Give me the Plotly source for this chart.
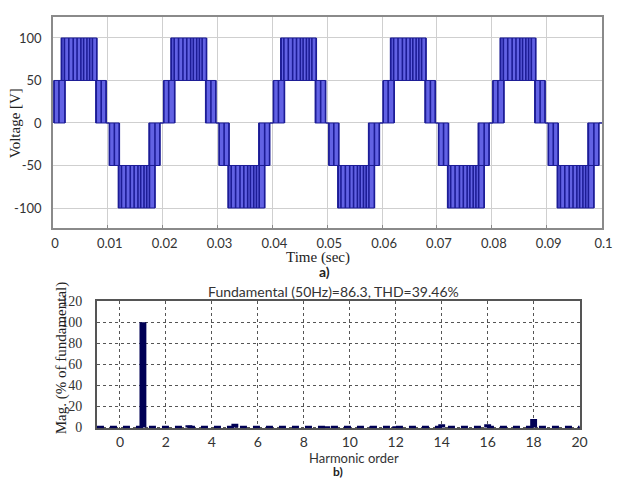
import plotly.graph_objects as go

# ---------------- data: (a) multilevel inverter output voltage ----------------
cycle_starts = [0.00, 0.02, 0.04, 0.06, 0.08]          # s, start of each 50 Hz cycle
band_t0 = [0.0002, 0.0015, 0.0078, 0.0103, 0.0119, 0.0175]   # band start within a cycle (s)
band_t1 = [0.0022, 0.0080, 0.0097, 0.0121, 0.0186, 0.0195]   # band end within a cycle (s)
band_lo = [0, 50, 0, -50, -100, -50]                          # lower level of switching band (V)
band_hi = [50, 100, 50, 0, -50, 0]                            # upper level of switching band (V)
band_edges = [
    [0.0002, 0.0011, 0.0022],
    [0.0016, 0.0021, 0.0029, 0.0037, 0.0044, 0.0051, 0.0056, 0.0062, 0.0067, 0.0072, 0.0080],
    [0.0079, 0.0088, 0.0097],
    [0.0103, 0.0112, 0.0121],
    [0.0120, 0.0125, 0.0133, 0.0141, 0.0148, 0.0155, 0.0160, 0.0166, 0.0171, 0.0176, 0.0186],
    [0.0176, 0.0186, 0.0195],
]
time_ticks = [0, 0.01, 0.02, 0.03, 0.04, 0.05, 0.06, 0.07, 0.08, 0.09, 0.1]
time_ticktext = ["0", "0.01", "0.02", "0.03", "0.04", "0.05", "0.06", "0.07", "0.08", "0.09", "0.1"]
volt_ticks = [100, 50, 0, -50, -100]
volt_ticktext = ["100", "50", "0", "-50", "-100"]

# ---------------- data: (b) harmonic spectrum ----------------
harm_order = [1, 3, 5, 9, 11, 12, 14, 16, 18]
harm_mag = [100, 2.0, 3.5, 1.0, 0.5, 0.8, 3.0, 3.0, 8.0]
harm_ticks = [0, 2, 4, 6, 8, 10, 12, 14, 16, 18, 20]
mag_ticks = [0, 20, 40, 60, 80, 100, 120]
spec_title = "Fundamental (50Hz)=86.3, THD=39.46%"

W, H = 618, 484
SANS = "Lato"
SERIF = "Liberation Serif"
DARK = "rgb(28,28,150)"
FILL = "rgb(98,98,228)"
NAVY = "#000055"


def px(x):
    return x / W


def py(y):
    return 1 - y / H


# build waveform geometry from the data
fx, fy, ex, ey, cx, cy = [], [], [], [], [], []
for c in cycle_starts:
    for t0, t1, lo, hi, edges in zip(band_t0, band_t1, band_lo, band_hi, band_edges):
        fx += [c + t0, c + t1, c + t1, c + t0, c + t0, None]
        fy += [lo, lo, hi, hi, lo, None]
        for e in edges:
            ex += [c + e, c + e, None]
            ey += [lo, hi, None]
    n = len(band_t0)
    for i in range(n):
        j = (i + 1) % n
        cnext = c + (0.02 if j == 0 else 0)
        shared = set([band_lo[i], band_hi[i]]) & set([band_lo[j], band_hi[j]])
        if shared and c + band_t1[i] < cnext + band_t0[j]:
            lvl = shared.pop()
            cx += [c + band_t1[i], cnext + band_t0[j], None]
            cy += [lvl, lvl, None]

fig = go.Figure()
fig.add_trace(go.Scatter(x=fx, y=fy, mode="lines", fill="toself", fillcolor=FILL,
                         line=dict(color=DARK, width=1), xaxis="x", yaxis="y",
                         showlegend=False, hoverinfo="skip"))
fig.add_trace(go.Scatter(x=ex, y=ey, mode="lines", line=dict(color=DARK, width=1.6),
                         xaxis="x", yaxis="y", showlegend=False, hoverinfo="skip"))
fig.add_trace(go.Scatter(x=cx, y=cy, mode="lines", line=dict(color=DARK, width=1.4),
                         xaxis="x", yaxis="y", showlegend=False, hoverinfo="skip"))

fig.add_trace(go.Bar(x=harm_order, y=harm_mag, width=0.3, marker=dict(color=NAVY, line=dict(width=0)),
                     xaxis="x2", yaxis="y2", showlegend=False))


def ann(text, x, y, font, angle=0):
    return dict(text=text, x=px(x), y=py(y), xref="paper", yref="paper",
                xanchor="center", yanchor="middle", textangle=angle,
                showarrow=False, font=font)


fig.update_layout(
    width=W, height=H,
    margin=dict(l=0, r=0, t=0, b=0),
    paper_bgcolor="white", plot_bgcolor="white",
    xaxis=dict(domain=[px(52), px(613)], range=[0, 0.1001], tickvals=time_ticks, ticktext=time_ticktext,
               showgrid=True, gridcolor="#cfcfcf", gridwidth=1, zeroline=False,
               showline=True, linecolor="#8a8a8a", linewidth=1.5, mirror=True,
               ticks="inside", ticklen=4, tickcolor="#8a8a8a",
               tickfont=dict(family=SANS, size=13, color="#333"),
               ticklabelstandoff=2, ticklabelshift=2, ticklabeloverflow="allow", anchor="y"),
    yaxis=dict(domain=[py(228), py(10)], range=[-124, 125],
               tickvals=volt_ticks, ticktext=volt_ticktext,
               showgrid=True, gridcolor="#cfcfcf", gridwidth=1, zeroline=False,
               showline=True, linecolor="#8a8a8a", linewidth=1.5, mirror=True,
               ticks="", tickfont=dict(family=SANS, size=13, color="#333"),
               ticklabelstandoff=7, anchor="x"),
    xaxis2=dict(domain=[px(97), px(590)], range=[-1, 20], tickvals=harm_ticks,
                showgrid=True, gridcolor="#555", gridwidth=1, griddash="dot", zeroline=False,
                showline=True, linecolor="#555", linewidth=2, mirror=True,
                ticks="", tickfont=dict(family=SANS, size=14, color="#333"),
                ticklabelstandoff=0, ticklabeloverflow="allow", anchor="y2"),
    yaxis2=dict(domain=[py(434), py(303)], range=[-1, 120], tickvals=mag_ticks,
                showgrid=True, gridcolor="#555", gridwidth=1, griddash="dot", zeroline=False,
                showline=True, linecolor="#555", linewidth=2, mirror=True,
                ticks="", tickfont=dict(family=SERIF, size=14, color="#333"),
                ticklabelstandoff=10, anchor="x2"),
    shapes=[dict(type="line", xref="x2 domain", yref="y2", x0=0.0, x1=1.0, y0=0.3, y1=0.3,
                 line=dict(color=NAVY, width=2.5, dash="7px,6px"))],
    annotations=[
        ann("Time (sec)", 323, 258, dict(family=SERIF, size=15, color="#222")),
        ann("<b>a)</b>", 329, 272, dict(family=SANS, size=14, color="#222")),
        ann("Voltage [V]", 13, 120, dict(family=SERIF, size=15, color="#222"), -90),
        ann(spec_title, 339, 293, dict(family=SANS, size=14, color="#333")),
        ann("Mag. (% of fundamental)", 61, 362, dict(family=SERIF, size=15, color="#222"), -90),
        ann("Harmonic order", 360, 464, dict(family=SANS, size=13, color="#333")),
        ann("<b>b)</b>", 343, 478, dict(family=SANS, size=12, color="#222")),
    ],
)

fig.write_html("out.html")
